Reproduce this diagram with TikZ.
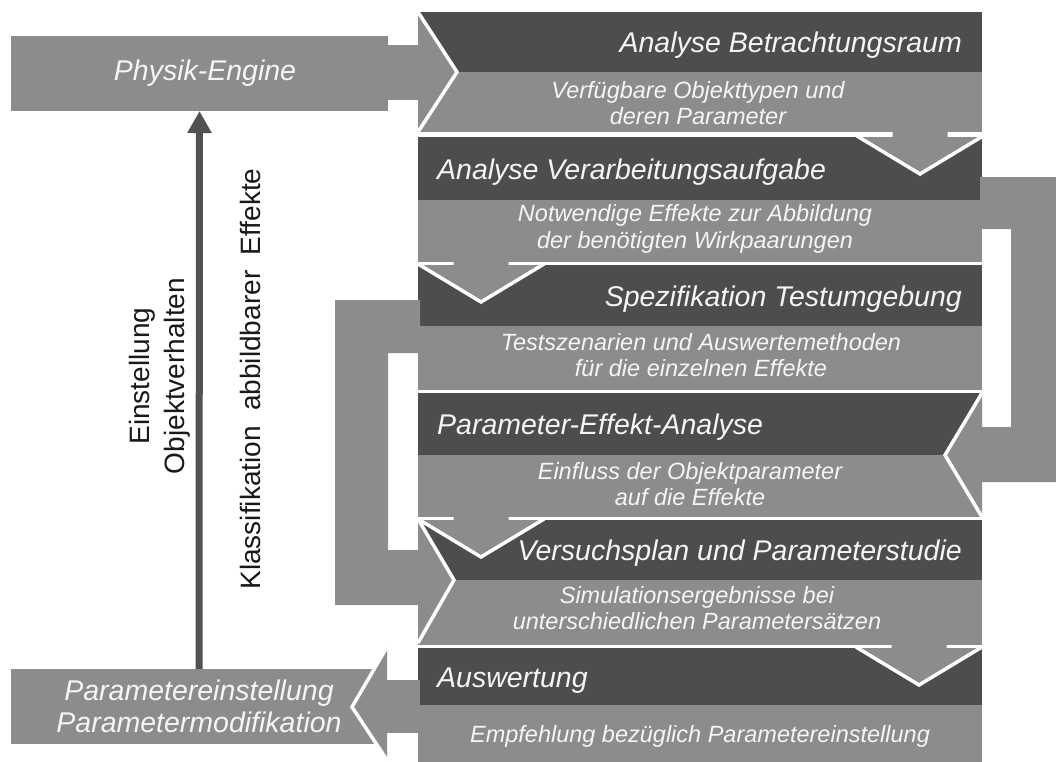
\documentclass[tikz,border=0pt]{standalone}
\usepackage{fontspec}
\setmainfont{Liberation Sans}
\usetikzlibrary{arrows.meta}

\definecolor{hdrgray}{RGB}{77,77,77}
\definecolor{bodygray}{RGB}{140,140,140}
\definecolor{arrowgray}{RGB}{82,82,82}
\definecolor{txtwhite}{RGB}{245,245,245}
\definecolor{txtdark}{RGB}{25,25,25}

\tikzset{
  hdr/.style={fill=hdrgray, draw=none, minimum width=564pt, minimum height=#1,
              anchor=north west, inner sep=0pt, outer sep=0pt},
  bdy/.style={fill=bodygray, draw=none, minimum width=564pt, minimum height=#1,
              anchor=north west, inner sep=0pt, outer sep=0pt},
  ttl/.style={text=txtwhite, font=\fontsize{28.5}{33}\selectfont\itshape, inner sep=0pt},
  sub/.style={text=txtwhite, font=\fontsize{23.5}{26.5}\selectfont\itshape,
              align=center, inner sep=0pt},
  sidebox/.style={fill=bodygray, draw=none, inner sep=0pt, outer sep=0pt,
              text=txtwhite, align=center,
              font=\fontsize{28.5}{32}\selectfont\itshape},
  rotlabel/.style={text=txtdark, rotate=90, align=center, inner sep=0pt,
              font=\fontsize{28}{35}\selectfont},
  flow/.style={fill=bodygray, draw=none},
  rim/.style={draw=white, line width=3.5pt, line join=miter, line cap=butt},
  downchev/.pic={
    \fill[bodygray] (-62,0) -- (-27.5,0) -- (-27.5,-9) -- (27.5,-9) -- (27.5,0)
                    -- (62,0) -- (0,37) -- cycle;
    \draw[rim] (-63,-1) -- (0,37) -- (63,-1);
  }
}

\begin{document}
\begin{tikzpicture}[x=1pt,y=-1pt]
\useasboundingbox (0,0) rectangle (1056,761);
\clip (0,0) rectangle (1056,761);
\fill[white] (0,0) rectangle (1056,761);

% ---- process column: header and body of each step
\node[hdr=60pt] (h1) at (418,12)  {};
\node[bdy=60pt] (b1) at (418,72)  {};
\node[hdr=63pt] (h2) at (418,137) {};
\node[bdy=62pt] (b2) at (418,200) {};
\node[hdr=61pt] (h3) at (418,265) {};
\node[bdy=64pt] (b3) at (418,326) {};
\node[hdr=62pt] (h4) at (418,393) {};
\node[bdy=62pt] (b4) at (418,455) {};
\node[hdr=60pt] (h5) at (418,520) {};
\node[bdy=65pt] (b5) at (418,580) {};
\node[hdr=57pt] (h6) at (418,648) {};
\node[bdy=60pt] (b6) at (418,705) {};

% ---- input and output boxes on the left
\node[sidebox, minimum width=377pt, minimum height=75pt, anchor=north west]
  (physik) at (11,36) {\hspace*{11pt}Physik-Engine};
\node[sidebox, minimum width=376pt, minimum height=75pt, anchor=north west]
  (param) at (11,669) {Parametereinstellung\\Parametermodifikation};

% ---- band from the physics engine into the first step
\fill[flow] (386,45) rectangle (420,100);
\fill[flow] (h1.north west) -- (457,72) -- (b1.south west) -- cycle;
\draw[rim] (h1.north west) -- (457,72) -- (b1.south west);

% ---- loop on the right: step 2 back into step 4
\fill[flow] (980,177) -- (1058,177) -- (1058,482) -- (980,482) -- (980,427)
            -- (1011,427) -- (1011,229) -- (980,229) -- cycle;
\fill[flow] (h4.north east) -- (945,455) -- (b4.south east) -- cycle;
\draw[rim] (h4.north east) -- (945,455) -- (b4.south east);

% ---- loop on the left: step 3 into step 5
\fill[flow] (420,300) -- (335,300) -- (335,605) -- (420,605) -- (420,550)
            -- (388,550) -- (388,353) -- (420,353) -- cycle;
\fill[flow] (418,519) -- (454,580) -- (418,643) -- cycle;
\draw[rim] (418,519) -- (454,580) -- (418,643);

% ---- output band from the last step to the left box
\fill[flow] (384,680) rectangle (420,733);
\fill[flow] (387,647) -- (352,707) -- (387,760) -- cycle;
\draw[rim] (387,647) -- (352,707) -- (387,760);

% ---- down chevrons between the steps
\pic at (920,137) {downchev};
\pic at (481,265) {downchev};
\pic at (481,520) {downchev};
\pic at (919,648) {downchev};

% ---- feedback arrow and its labels
\draw[arrowgray, line width=7pt, -{Triangle[length=22pt,width=23pt]}]
  (param.north) -- (physik.south);
\node[rotlabel] (lblset) at (160,376) {Einstellung\\Objektverhalten};
\node[rotlabel] (lblcls) at (250,379)
  {Klassifikation\hspace{0.55em}abbildbarer\hspace{0.55em}Effekte};

% ---- step titles
\node[ttl, anchor=base east] (t1) at (962,52)  {Analyse Betrachtungsraum};
\node[ttl, anchor=base west] (t2) at (437,179) {Analyse Verarbeitungsaufgabe};
\node[ttl, anchor=base east] (t3) at (962,306) {Spezifikation Testumgebung};
\node[ttl, anchor=base west] (t4) at (437,434) {Parameter-Effekt-Analyse};
\node[ttl, anchor=base east] (t5) at (962,560) {Versuchsplan und Parameterstudie};
\node[ttl, anchor=base west] (t6) at (437,687) {Auswertung};

% ---- step results
\node[sub] (s1) at (698,103) {Verfügbare Objekttypen und\\deren Parameter};
\node[sub] (s2) at (695,229) {Notwendige Effekte zur Abbildung\\der benötigten Wirkpaarungen};
\node[sub] (s3) at (701,355) {Testszenarien und Auswertemethoden\\für die einzelnen Effekte};
\node[sub] (s4) at (690,484) {Einfluss der Objektparameter\\auf die Effekte};
\node[sub] (s5) at (697,608) {Simulationsergebnisse bei\\unterschiedlichen Parametersätzen};
\node[sub] (s6) at (700,736) {Empfehlung bezüglich Parametereinstellung};
\end{tikzpicture}
\end{document}
